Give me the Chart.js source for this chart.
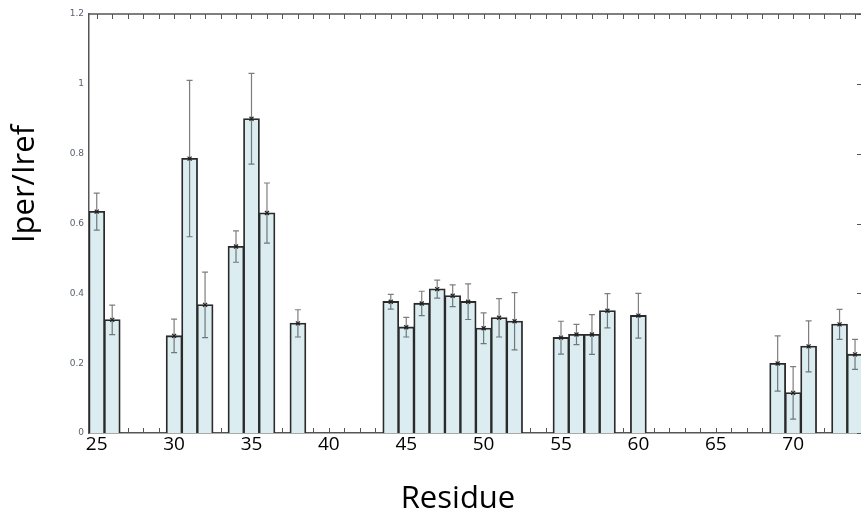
<!DOCTYPE html>
<html>
<head>
<meta charset="utf-8">
<script src="https://cdn.jsdelivr.net/npm/chart.js@4"></script>
<style>
  html, body { margin: 0; padding: 0; background: #fff; overflow: hidden; }
  #wrap { width: 900px; height: 518px; position: relative; }
</style>
</head>
<body>
<div id="wrap"><canvas id="chart"></canvas></div>
<script>
// residue numbers and Iper/Iref ratios
const residues = [25, 26, 30, 31, 32, 34, 35, 36, 38, 44, 45, 46, 47, 48, 49, 50, 51, 52, 55, 56, 57, 58, 60, 69, 70, 71, 73, 74];
const ratios   = [0.634, 0.324, 0.278, 0.786, 0.367, 0.534, 0.900, 0.630, 0.314, 0.376, 0.303, 0.371, 0.412, 0.393, 0.376, 0.300, 0.330, 0.320, 0.273, 0.282, 0.282, 0.350, 0.336, 0.199, 0.115, 0.248, 0.311, 0.225];
const errors   = [0.053, 0.042, 0.048, 0.224, 0.094, 0.045, 0.130, 0.086, 0.039, 0.021, 0.028, 0.035, 0.026, 0.031, 0.051, 0.044, 0.055, 0.082, 0.047, 0.029, 0.057, 0.049, 0.064, 0.079, 0.075, 0.073, 0.043, 0.043];
const xTickLabels = [25, 30, 35, 40, 45, 50, 55, 60, 65, 70];
const yTickLabels = [0, 0.2, 0.4, 0.6, 0.8, 1, 1.2];

const axisColor = '#555';

// error bars with caps and a small x marker at the value
const errorBars = {
  id: 'errorBars',
  afterDatasetsDraw(chart) {
    const ctx = chart.ctx, xs = chart.scales.x, ys = chart.scales.y;
    ctx.save();
    residues.forEach((r, i) => {
      const px = xs.getPixelForValue(r);
      const top = ys.getPixelForValue(ratios[i] + errors[i]);
      const bot = ys.getPixelForValue(ratios[i] - errors[i]);
      const mid = ys.getPixelForValue(ratios[i]);
      ctx.strokeStyle = 'rgba(40,40,40,0.6)';
      ctx.lineWidth = 1.2;
      ctx.beginPath();
      ctx.moveTo(px, top); ctx.lineTo(px, bot);
      ctx.moveTo(px - 3, top); ctx.lineTo(px + 3, top);
      ctx.moveTo(px - 3, bot); ctx.lineTo(px + 3, bot);
      ctx.stroke();
      ctx.strokeStyle = '#222';
      ctx.beginPath();
      ctx.moveTo(px - 2, mid - 2); ctx.lineTo(px + 2, mid + 2);
      ctx.moveTo(px - 2, mid + 2); ctx.lineTo(px + 2, mid - 2);
      ctx.stroke();
    });
    ctx.restore();
  }
};

// frame: top axis line, inward minor ticks on top/bottom/right, axis titles
const frame = {
  id: 'frame',
  beforeDatasetsDraw(chart) {
    const ctx = chart.ctx, xs = chart.scales.x, ys = chart.scales.y, a = chart.chartArea;
    ctx.save();
    ctx.strokeStyle = axisColor;
    ctx.lineWidth = 1.5;
    ctx.beginPath();
    ctx.moveTo(a.left, a.top); ctx.lineTo(a.right, a.top);
    ctx.stroke();
    ctx.lineWidth = 1;
    ctx.beginPath();
    for (let v = Math.ceil(xs.min); v <= xs.max; v++) {
      const px = Math.round(xs.getPixelForValue(v)) + 0.5;
      ctx.moveTo(px, a.top); ctx.lineTo(px, a.top + 5);
      ctx.moveTo(px, a.bottom); ctx.lineTo(px, a.bottom - 5);
    }
    yTickLabels.forEach(v => {
      const py = Math.round(ys.getPixelForValue(v)) + 0.5;
      ctx.moveTo(a.right, py); ctx.lineTo(a.right - 5, py);
    });
    ctx.stroke();
    ctx.restore();
  },
  afterDraw(chart) {
    const ctx = chart.ctx, a = chart.chartArea;
    ctx.save();
    ctx.fillStyle = '#000';
    ctx.font = '31px "Open Sans"';
    ctx.textAlign = 'center';
    ctx.textBaseline = 'middle';
    ctx.fillText('Residue', a.left + 369, a.bottom + 66);
    ctx.translate(25, a.top + 170);
    ctx.rotate(-Math.PI / 2);
    ctx.fillText('Iper/Iref', 0, 0);
    ctx.restore();
  }
};

new Chart(document.getElementById('chart'), {
  type: 'bar',
  data: {
    datasets: [{
      data: residues.map((r, i) => ({ x: r, y: ratios[i] })),
      backgroundColor: '#dcedf1',
      borderColor: '#2a2a2a',
      borderWidth: 1.8,
      inflateAmount: 0.6,
      categoryPercentage: 1,
      barPercentage: 1
    }]
  },
  options: {
    responsive: true,
    maintainAspectRatio: false,
    animation: false,
    layout: { padding: { left: 0, top: 14, right: 38, bottom: 0 } },
    plugins: { legend: { display: false }, tooltip: { enabled: false } },
    scales: {
      x: {
        type: 'linear',
        offset: false,
        min: 24.5,
        max: 74.45,
        afterBuildTicks: s => { s.ticks = xTickLabels.map(v => ({ value: v })); },
        afterFit: s => { s.height = 85; },
        grid: { display: false, drawTicks: false, offset: false },
        border: { display: true, color: axisColor, width: 1.5 },
        ticks: { color: '#000', font: { family: 'Open Sans', size: 19 }, padding: 0, maxRotation: 0, autoSkip: false }
      },
      y: {
        min: 0,
        max: 1.2,
        afterBuildTicks: s => { s.ticks = yTickLabels.map(v => ({ value: v })); },
        afterFit: s => { s.width = 89; },
        grid: { display: false, drawTicks: false },
        border: { display: true, color: axisColor, width: 1.5 },
        ticks: { color: '#5a6270', font: { family: 'DejaVu Sans', size: 9 }, padding: 5, callback: v => String(v) }
      }
    }
  },
  plugins: [frame, errorBars]
});
</script>
</body>
</html>
